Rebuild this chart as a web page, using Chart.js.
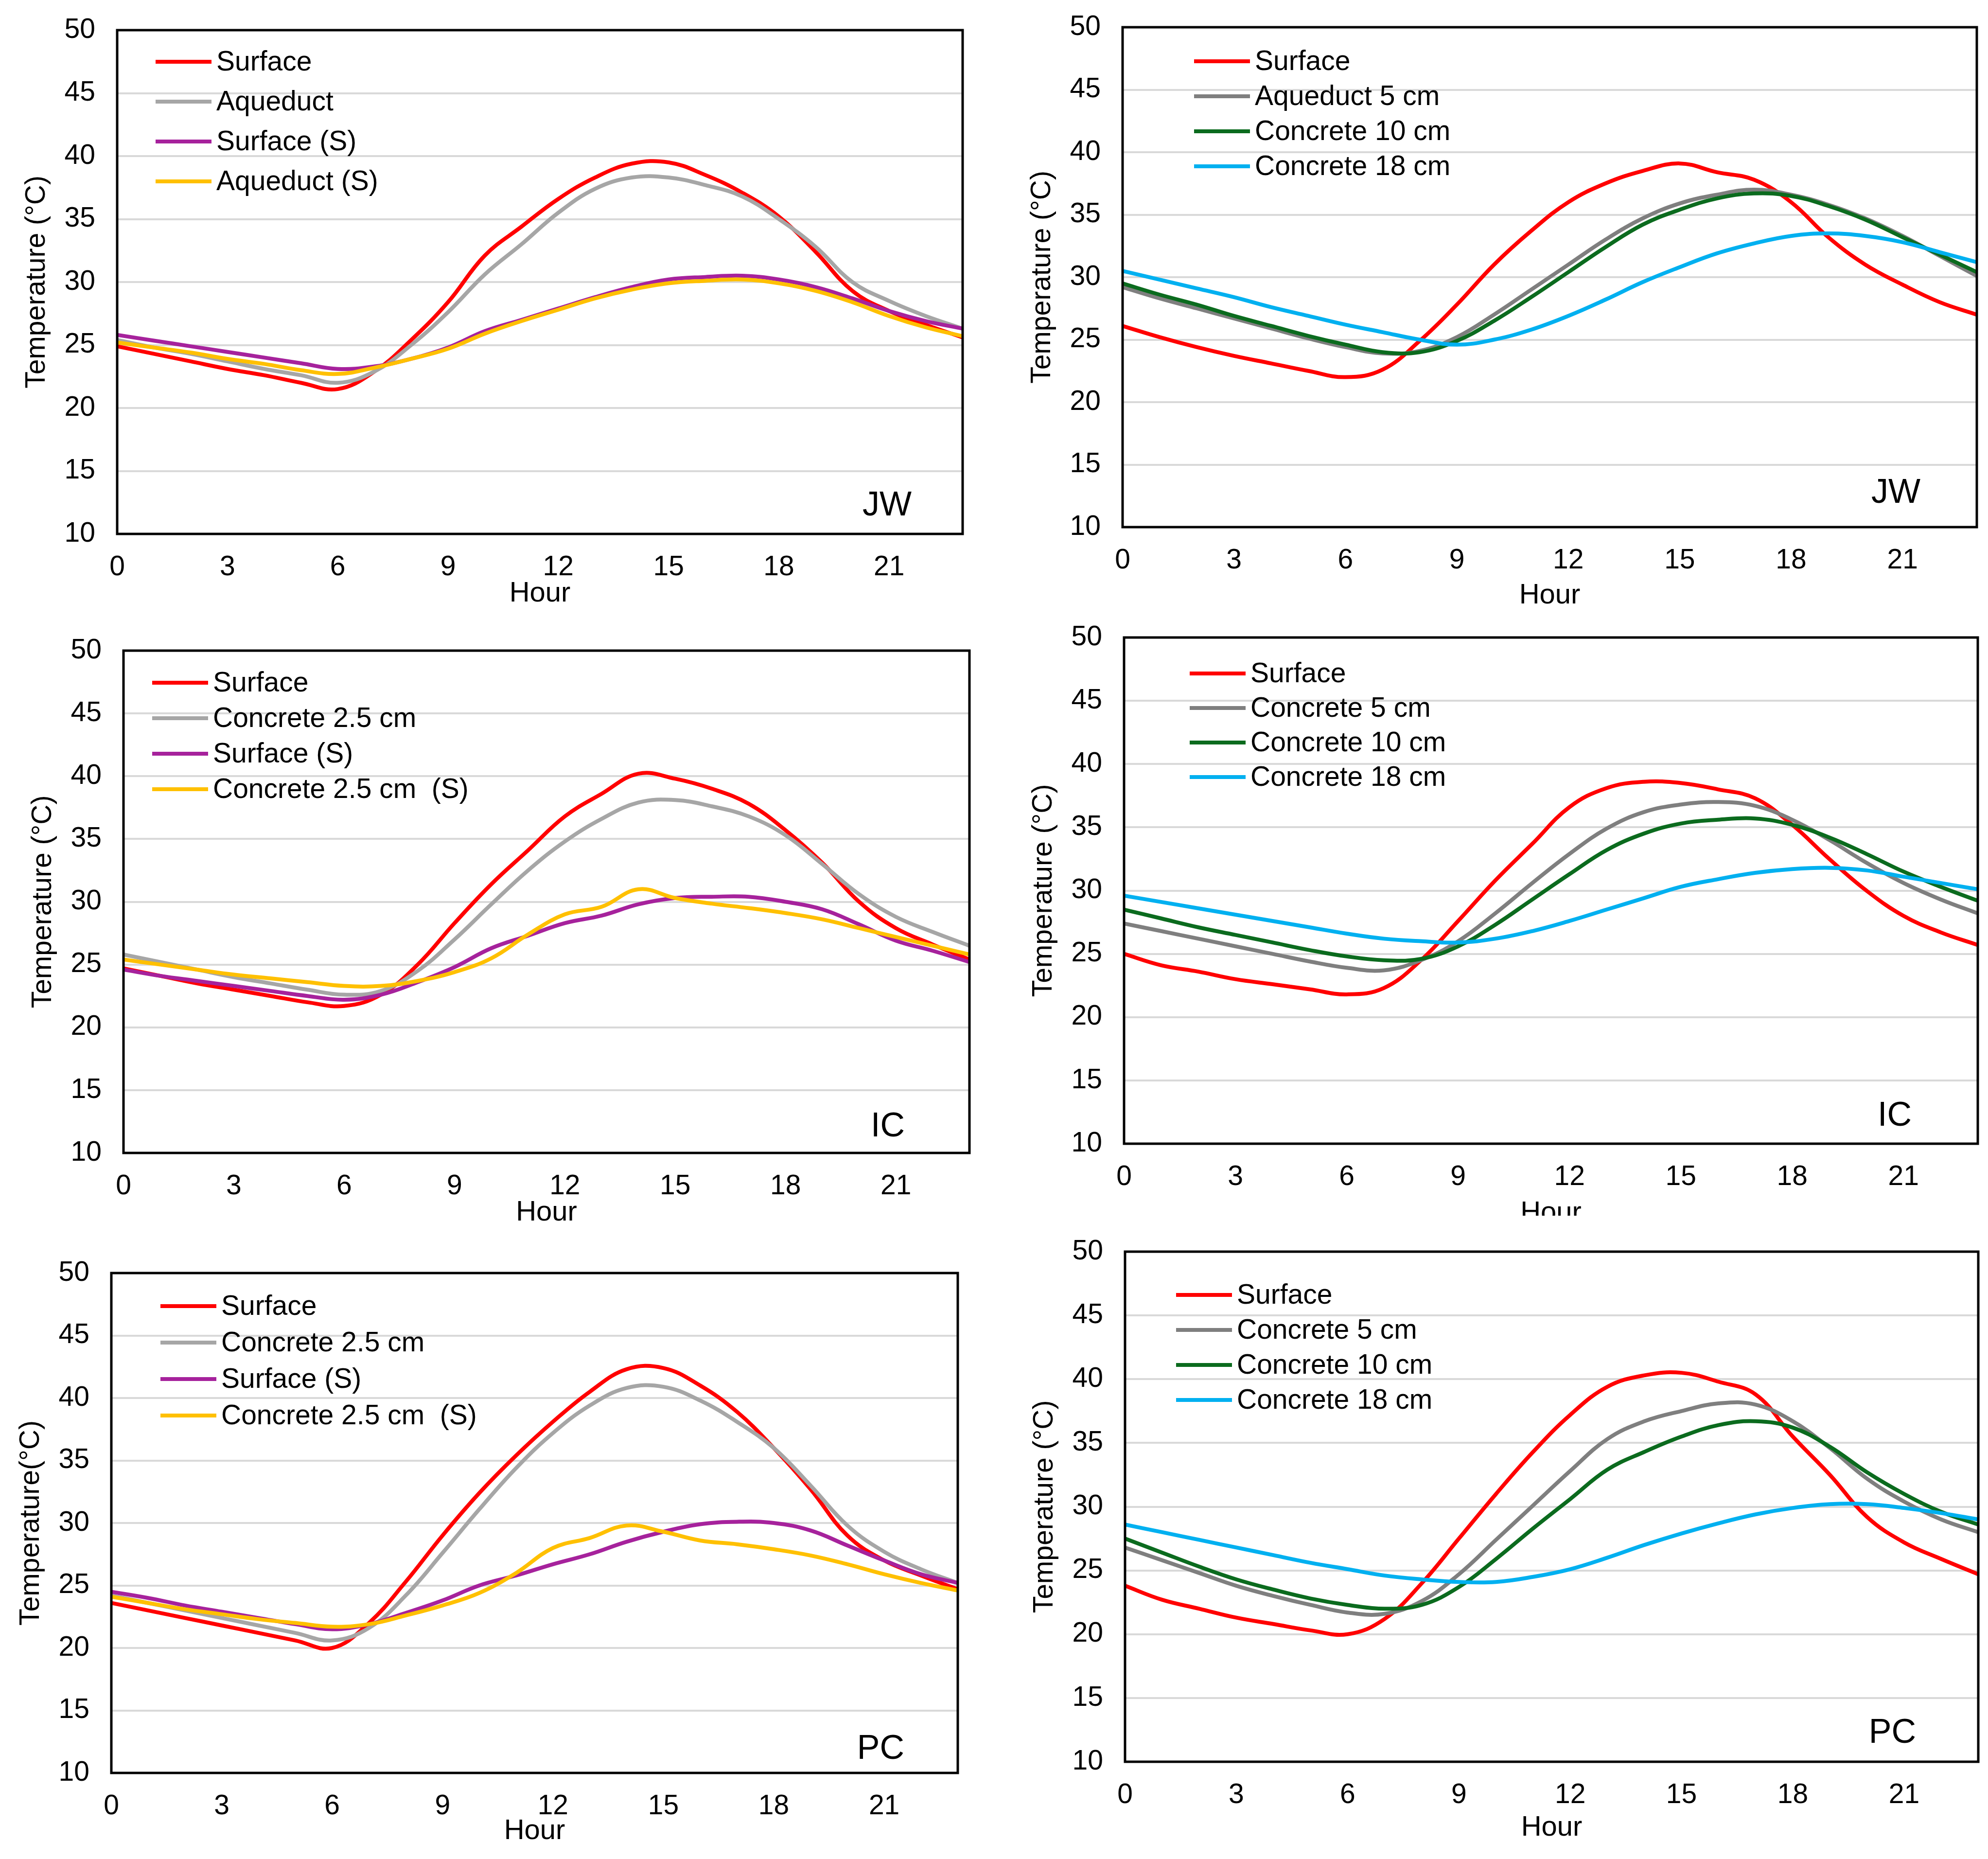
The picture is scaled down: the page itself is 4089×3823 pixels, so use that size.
<!DOCTYPE html>
<html>
<head>
<meta charset="utf-8">
<script src="https://cdn.jsdelivr.net/npm/chart.js@4.4.1/dist/chart.umd.min.js"></script>
<style>
  html, body { margin: 0; padding: 0; background: #fff; }
  body { width: 4089px; height: 3823px; position: relative; overflow: hidden; }
  .panel { position: absolute; overflow: hidden; }
</style>
</head>
<body>
<script>
// hours and axis ticks
const hours = [0,1,2,3,4,5,6,7,8,9,10,11,12,13,14,15,16,17,18,19,20,21,22,23];
const hourTicks = [0, 3, 6, 9, 12, 15, 18, 21];
const tempTicks = [10, 15, 20, 25, 30, 35, 40, 45, 50];

// series names
const labelsJW = ['Surface', 'Aqueduct', 'Surface (S)', 'Aqueduct (S)'];
const labelsJW2 = ['Surface', 'Aqueduct 5 cm', 'Concrete 10 cm', 'Concrete 18 cm'];
const labelsC = ['Surface', 'Concrete 2.5 cm', 'Surface (S)', 'Concrete 2.5 cm  (S)'];
const labelsC2 = ['Surface', 'Concrete 5 cm', 'Concrete 10 cm', 'Concrete 18 cm'];

// JW, left
const jwSurface   = [24.9, 24.3, 23.7, 23.1, 22.6, 22.0, 21.5, 22.9, 25.4, 28.4, 32.1, 34.4, 36.6, 38.3, 39.4, 39.5, 38.5, 37.1, 35.2, 32.4, 29.3, 27.7, 26.6, 25.6];
const jwAqueduct  = [25.4, 24.8, 24.3, 23.7, 23.1, 22.6, 22.0, 22.9, 25.0, 27.6, 30.6, 33.0, 35.5, 37.4, 38.3, 38.3, 37.7, 36.8, 35.0, 32.8, 30.0, 28.5, 27.3, 26.3];
const jwSurfaceS  = [25.8, 25.35, 24.9, 24.45, 24.0, 23.55, 23.1, 23.3, 23.9, 24.8, 26.1, 27.0, 27.9, 28.8, 29.6, 30.2, 30.4, 30.5, 30.2, 29.6, 28.7, 27.7, 26.9, 26.3];
const jwAqueductS = [25.2, 24.8, 24.4, 23.9, 23.5, 23.0, 22.7, 23.2, 23.9, 24.7, 25.9, 26.9, 27.8, 28.7, 29.4, 29.9, 30.1, 30.2, 29.9, 29.3, 28.4, 27.3, 26.4, 25.7];

// JW, right
const jw2Surface    = [26.1, 25.2, 24.4, 23.7, 23.1, 22.5, 22.0, 22.6, 24.9, 27.8, 31.0, 33.7, 36.0, 37.5, 38.5, 39.1, 38.4, 37.8, 36.0, 33.2, 31.0, 29.4, 28.0, 27.0];
const jw2Aqueduct5  = [29.2, 28.3, 27.5, 26.7, 25.9, 25.1, 24.4, 23.9, 24.1, 25.2, 27.0, 29.0, 31.0, 33.0, 34.7, 35.9, 36.6, 37.0, 36.6, 35.8, 34.7, 33.3, 31.7, 30.1];
const jw2Concrete10 = [29.5, 28.6, 27.8, 26.9, 26.1, 25.3, 24.6, 24.0, 24.0, 24.9, 26.5, 28.4, 30.4, 32.4, 34.2, 35.4, 36.3, 36.7, 36.5, 35.7, 34.6, 33.2, 31.8, 30.4];
const jw2Concrete18 = [30.5, 29.8, 29.1, 28.4, 27.6, 26.9, 26.2, 25.6, 25.0, 24.6, 25.0, 25.8, 26.9, 28.2, 29.6, 30.8, 31.9, 32.7, 33.3, 33.5, 33.3, 32.8, 32.0, 31.2];

// IC, left
const icSurface     = [24.7, 24.1, 23.5, 23.0, 22.5, 22.0, 21.7, 22.6, 25.0, 28.3, 31.4, 34.1, 36.8, 38.6, 40.2, 39.8, 39.0, 37.8, 35.7, 33.1, 30.0, 27.9, 26.6, 25.4];
const icConcrete25  = [25.8, 25.2, 24.6, 24.0, 23.5, 23.0, 22.6, 22.9, 24.5, 27.0, 29.8, 32.5, 34.8, 36.6, 37.9, 38.1, 37.6, 36.8, 35.3, 33.0, 30.6, 28.8, 27.6, 26.5];
const icSurfaceS    = [24.6, 24.1, 23.7, 23.3, 22.9, 22.5, 22.2, 22.6, 23.6, 24.8, 26.3, 27.3, 28.3, 28.9, 29.8, 30.3, 30.4, 30.4, 30.0, 29.4, 28.2, 26.9, 26.1, 25.2];
const icConcrete25S = [25.4, 25.0, 24.6, 24.2, 23.9, 23.6, 23.3, 23.3, 23.7, 24.4, 25.5, 27.4, 29.0, 29.6, 31.0, 30.3, 29.85, 29.5, 29.1, 28.6, 27.9, 27.2, 26.5, 25.8];

// IC, right
const ic2Surface    = [25.0, 24.1, 23.6, 23.0, 22.6, 22.2, 21.8, 22.3, 24.5, 27.6, 30.8, 33.7, 36.6, 38.1, 38.6, 38.5, 38.0, 37.3, 35.2, 32.5, 30.0, 28.0, 26.7, 25.7];
const ic2Concrete5  = [27.4, 26.8, 26.2, 25.6, 25.0, 24.4, 23.9, 23.7, 24.5, 26.0, 28.2, 30.6, 32.9, 34.9, 36.2, 36.8, 37.0, 36.7, 35.6, 34.0, 32.2, 30.6, 29.3, 28.2];
const ic2Concrete10 = [28.5, 27.8, 27.1, 26.5, 25.9, 25.3, 24.8, 24.5, 24.6, 25.6, 27.3, 29.3, 31.3, 33.2, 34.5, 35.3, 35.6, 35.7, 35.2, 34.2, 32.9, 31.5, 30.3, 29.2];
const ic2Concrete18 = [29.6, 29.1, 28.6, 28.1, 27.6, 27.1, 26.6, 26.2, 26.0, 25.9, 26.2, 26.8, 27.6, 28.5, 29.4, 30.3, 30.9, 31.4, 31.7, 31.8, 31.6, 31.1, 30.6, 30.1];

// PC, left
const pcSurface     = [23.6, 23.0, 22.4, 21.8, 21.2, 20.6, 20.0, 22.0, 25.3, 29.0, 32.4, 35.4, 38.1, 40.5, 42.3, 42.4, 41.0, 38.9, 36.0, 32.7, 29.0, 27.0, 25.8, 24.7];
const pcConcrete25  = [24.2, 23.6, 23.0, 22.4, 21.8, 21.2, 20.6, 21.6, 24.2, 27.6, 31.1, 34.4, 37.2, 39.4, 40.8, 40.9, 39.8, 38.1, 36.0, 33.0, 29.8, 27.7, 26.3, 25.2];
const pcSurfaceS    = [24.5, 24.0, 23.4, 22.9, 22.4, 21.9, 21.5, 21.9, 22.8, 23.8, 25.0, 25.8, 26.7, 27.5, 28.5, 29.3, 29.9, 30.1, 30.0, 29.4, 28.2, 27.0, 25.9, 25.2];
const pcConcrete25S = [24.1, 23.6, 23.1, 22.7, 22.3, 22.0, 21.7, 21.9, 22.6, 23.4, 24.4, 26.0, 28.0, 28.8, 29.8, 29.3, 28.6, 28.3, 27.9, 27.4, 26.7, 25.9, 25.2, 24.6];

// PC, right
const pc2Surface    = [23.8, 22.7, 22.0, 21.3, 20.8, 20.3, 20.0, 21.2, 24.0, 27.5, 31.0, 34.3, 37.2, 39.4, 40.3, 40.5, 39.8, 38.8, 35.5, 32.5, 29.2, 27.2, 25.9, 24.7];
const pc2Concrete5  = [26.8, 25.8, 24.8, 23.8, 23.0, 22.3, 21.7, 21.6, 22.6, 24.7, 27.4, 30.1, 32.8, 35.3, 36.7, 37.5, 38.1, 38.0, 36.7, 34.6, 32.2, 30.4, 29.0, 28.0];
const pc2Concrete10 = [27.5, 26.4, 25.3, 24.3, 23.5, 22.8, 22.3, 22.0, 22.3, 23.7, 25.9, 28.3, 30.6, 32.9, 34.3, 35.5, 36.4, 36.7, 36.2, 34.7, 32.7, 31.0, 29.6, 28.6];
const pc2Concrete18 = [28.6, 28.0, 27.4, 26.8, 26.2, 25.6, 25.1, 24.6, 24.3, 24.1, 24.1, 24.5, 25.1, 26.0, 27.0, 27.9, 28.7, 29.4, 29.9, 30.2, 30.2, 29.9, 29.5, 29.0];

const FONT = "'Liberation Sans', Arial, sans-serif";
const colorsS = ['#FF0000', '#A6A6A6', '#A6229C', '#FFC000'];
const colorsD = ['#FF0000', '#7F7F7F', '#0B6B1E', '#00B0F0'];

// where each plot box sits on the page (px)
const panels = [
  { L: 241,  T: 62,   R: 1980, B: 1098, hx: 158, clipB: null, yTitle: 'Temperature (°C)', tag: 'JW',
    tagR: 105, tagB: 38, leg: { dx: 79, dy: 65, step: 82 }, labels: labelsJW, colors: colorsS,
    series: [jwSurface, jwAqueduct, jwSurfaceS, jwAqueductS] },
  { L: 2309, T: 56,   R: 4066, B: 1084, hx: 176, clipB: null, yTitle: 'Temperature (°C)', tag: 'JW',
    tagR: 116, tagB: 50, leg: { dx: 147, dy: 70, step: 72 }, labels: labelsJW2, colors: colorsD,
    series: [jw2Surface, jw2Aqueduct5, jw2Concrete10, jw2Concrete18] },
  { L: 254,  T: 1338, R: 1994, B: 2371, hx: 158, clipB: null, yTitle: 'Temperature (°C)', tag: 'IC',
    tagR: 133, tagB: 34, leg: { dx: 59, dy: 66, step: 73 }, labels: labelsC, colors: colorsS,
    series: [icSurface, icConcrete25, icSurfaceS, icConcrete25S] },
  { L: 2312, T: 1311, R: 4068, B: 2352, hx: 178, clipB: 2500, yTitle: 'Temperature (°C)', tag: 'IC',
    tagR: 136, tagB: 37, leg: { dx: 135, dy: 74, step: 71 }, labels: labelsC2, colors: colorsD,
    series: [ic2Surface, ic2Concrete5, ic2Concrete10, ic2Concrete18] },
  { L: 229,  T: 2618, R: 1970, B: 3646, hx: 155, clipB: null, yTitle: 'Temperature(°C)', tag: 'PC',
    tagR: 110, tagB: 29, leg: { dx: 101, dy: 68, step: 75 }, labels: labelsC, colors: colorsS,
    series: [pcSurface, pcConcrete25, pcSurfaceS, pcConcrete25S] },
  { L: 2314, T: 2574, R: 4069, B: 3623, hx: 171, clipB: null, yTitle: 'Temperature (°C)', tag: 'PC',
    tagR: 128, tagB: 39, leg: { dx: 105, dy: 89, step: 72 }, labels: labelsC2, colors: colorsD,
    series: [pc2Surface, pc2Concrete5, pc2Concrete10, pc2Concrete18] }
];

const Y_W = 199;     // width given to the y axis
const PAD_T = 84;    // must cover half a tick label plus tick padding
const PAD_R = 20;

// black box round the plot
const framePlugin = {
  id: 'frame',
  afterDatasetsDraw(chart) {
    const { ctx, chartArea: a } = chart;
    ctx.save();
    ctx.strokeStyle = '#000';
    ctx.lineWidth = 5;
    ctx.strokeRect(a.left, a.top, a.right - a.left, a.bottom - a.top);
    ctx.restore();
  }
};

// legend drawn inside the plot, top left
const insideLegend = {
  id: 'insideLegend',
  afterDraw(chart, args, opts) {
    const { ctx, chartArea: a } = chart;
    ctx.save();
    ctx.font = opts.size + 'px ' + FONT;
    ctx.textBaseline = 'middle';
    ctx.fillStyle = '#000';
    chart.data.datasets.forEach((ds, i) => {
      const x = a.left + opts.dx;
      const y = a.top + opts.dy + i * opts.step;
      ctx.strokeStyle = ds.borderColor;
      ctx.lineWidth = 8;
      ctx.beginPath();
      ctx.moveTo(x, y);
      ctx.lineTo(x + opts.len, y);
      ctx.stroke();
      ctx.fillText(ds.label, x + opts.len + opts.gap, y + 2);
    });
    ctx.restore();
  }
};

// site name, bottom right of plot
const cornerTag = {
  id: 'cornerTag',
  afterDraw(chart, args, opts) {
    const { ctx, chartArea: a } = chart;
    ctx.save();
    ctx.font = opts.size + 'px ' + FONT;
    ctx.textAlign = 'right';
    ctx.textBaseline = 'alphabetic';
    ctx.fillStyle = '#000';
    ctx.fillText(opts.text, a.right - opts.right, a.bottom - opts.bottom);
    ctx.restore();
  }
};

panels.forEach((p) => {
  const w = Y_W + (p.R - p.L) + PAD_R;
  const h = PAD_T + (p.B - p.T) + p.hx;
  const div = document.createElement('div');
  div.className = 'panel';
  div.style.left = (p.L - Y_W) + 'px';
  div.style.top = (p.T - PAD_T) + 'px';
  div.style.width = w + 'px';
  div.style.height = (p.clipB ? p.clipB - (p.T - PAD_T) : h) + 'px';
  const cv = document.createElement('canvas');
  cv.width = w;
  cv.height = h;
  cv.style.width = w + 'px';
  cv.style.height = h + 'px';
  div.appendChild(cv);
  document.body.appendChild(div);

  const datasets = p.series.map((vals, i) => ({
    label: p.labels[i],
    data: hours.map((hr, k) => ({ x: hr, y: vals[k] })),
    borderColor: p.colors[i],
    borderWidth: 8,
    pointRadius: 0,
    tension: 0.4,
    fill: false,
    order: p.series.length - i
  }));

  new Chart(cv.getContext('2d'), {
    type: 'line',
    data: { datasets },
    plugins: [framePlugin, insideLegend, cornerTag],
    options: {
      responsive: false,
      animation: false,
      devicePixelRatio: 1,
      layout: { padding: { top: PAD_T, right: PAD_R, left: 0, bottom: 0 } },
      plugins: {
        legend: { display: false },
        tooltip: { enabled: false },
        insideLegend: { dx: p.leg.dx, dy: p.leg.dy, step: p.leg.step, len: 115, gap: 10, size: 57 },
        cornerTag: { text: p.tag, right: p.tagR, bottom: p.tagB, size: 70 }
      },
      scales: {
        x: {
          type: 'linear',
          min: 0,
          max: 23,
          afterBuildTicks: s => { s.ticks = hourTicks.map(v => ({ value: v })); },
          afterFit: s => { s.height = p.hx; },
          ticks: { font: { size: 57, family: FONT }, color: '#000', padding: 35, maxRotation: 0 },
          grid: { display: false, drawTicks: false },
          border: { display: false },
          title: { display: true, text: 'Hour', font: { size: 58, family: FONT }, color: '#000', padding: 0 }
        },
        y: {
          min: 10,
          max: 50,
          afterBuildTicks: s => { s.ticks = tempTicks.map(v => ({ value: v })); },
          afterFit: s => { s.width = Y_W; },
          ticks: { font: { size: 57, family: FONT }, color: '#000', padding: 45 },
          grid: { color: '#D9D9D9', lineWidth: 4, drawTicks: false },
          border: { display: false },
          title: { display: true, text: p.yTitle, font: { size: 57, family: FONT }, color: '#000', padding: 0 }
        }
      }
    }
  });
});
</script>
</body>
</html>
